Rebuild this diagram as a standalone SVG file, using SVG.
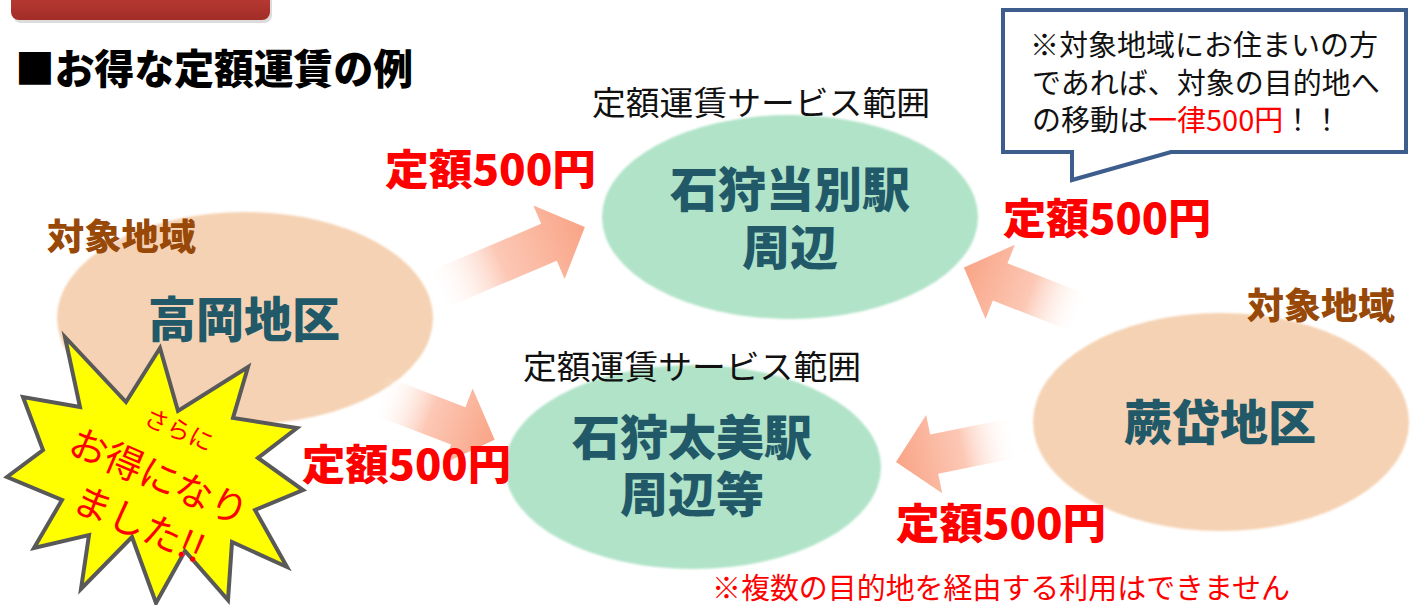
<svg xmlns="http://www.w3.org/2000/svg" width="1418" height="605" viewBox="0 0 1418 605">
<defs>
<style>
text{font-family:"Noto Sans CJK JP","Noto Sans CJK SC",sans-serif;}
.b{font-weight:900;}
.teal{fill:#215968;font-size:48px;font-weight:900;text-anchor:middle;}
.brown{fill:#984807;font-size:36px;font-weight:900;}
.price{fill:#ff0000;font-size:42px;font-weight:900;}
.range{fill:#111;font-size:33px;}
.orange{fill:#f5d2b3;}
.green{fill:#b0e3c8;}
.arrow{fill:url(#ag);}
.call{fill:#111;font-size:29px;}
.red{fill:#ff0000;}
.star{fill:#ffff00;stroke:#595959;stroke-width:4;stroke-linejoin:miter;}
</style>
<linearGradient id="ag" x1="0" y1="0" x2="1" y2="0">
<stop offset="0" stop-color="#ffffff" stop-opacity="0"/>
<stop offset="0.45" stop-color="#fcc8b5"/>
<stop offset="1" stop-color="#f9a486"/>
</linearGradient>
<linearGradient id="rg" x1="0" y1="0" x2="0" y2="1">
<stop offset="0" stop-color="#c8453d"/>
<stop offset="1" stop-color="#a22c27"/>
</linearGradient>
<filter id="soft" x="-5%" y="-5%" width="110%" height="110%">
<feGaussianBlur stdDeviation="1"/>
</filter>
</defs>

<g id="header">
<rect x="13" y="-18" width="259" height="41" rx="8" fill="#9a9a9a" opacity="0.35"/>
<rect x="11" y="-20" width="259" height="40" rx="8" fill="url(#rg)"/>
<text x="15" y="84" class="b" font-size="41" fill="#000" textLength="398" lengthAdjust="spacingAndGlyphs">■お得な定額運賃の例</text>
</g>

<g id="node-takaoka">
<ellipse cx="245" cy="318" rx="188" ry="106" class="orange" filter="url(#soft)"/>
<text x="47" y="250" class="brown" textLength="149" lengthAdjust="spacingAndGlyphs">対象地域</text>
<text x="244" y="337" class="teal" font-size="47">高岡地区</text>
</g>

<g id="node-warabitai">
<ellipse cx="1221" cy="422" rx="188" ry="109" class="orange" filter="url(#soft)"/>
<text x="1247" y="319" class="brown" textLength="148" lengthAdjust="spacingAndGlyphs">対象地域</text>
<text x="1220" y="440" class="teal" font-size="47">蕨岱地区</text>
</g>

<g id="node-tobetsu">
<ellipse cx="790" cy="217" rx="188" ry="102" class="green" filter="url(#soft)"/>
<text x="592" y="115" class="range" textLength="338" lengthAdjust="spacingAndGlyphs">定額運賃サービス範囲</text>
<text class="teal"><tspan x="790" y="207">石狩当別駅</tspan><tspan x="790" y="265">周辺</tspan></text>
</g>

<g id="node-futomi">
<ellipse cx="693" cy="467" rx="188" ry="102" class="green" filter="url(#soft)"/>
<text x="523" y="379" class="range" textLength="338" lengthAdjust="spacingAndGlyphs">定額運賃サービス範囲</text>
<text class="teal" font-size="47"><tspan x="692" y="455">石狩太美駅</tspan><tspan x="692" y="512">周辺等</tspan></text>
</g>

<g id="connectors">
<path class="arrow" transform="translate(433,291.5) rotate(-23)" d="M0,-20 H126 V-40 L165,0 L126,40 V20 H0 Z"/>
<path class="arrow" transform="translate(378,395) rotate(21)" d="M0,-20 H86 V-40 L125,0 L86,40 V20 H0 Z"/>
<path class="arrow" transform="translate(1083,314.5) rotate(201.5)" d="M0,-20 H89 V-40 L128,0 L89,40 V20 H0 Z"/>
<path class="arrow" transform="translate(1015.5,437.5) rotate(168.4)" d="M0,-20 H83 V-40 L122,0 L83,40 V20 H0 Z"/>
</g>

<g id="prices">
<text x="385" y="185" class="price" textLength="211" lengthAdjust="spacingAndGlyphs">定額500円</text>
<text x="1003" y="234" class="price" textLength="208" lengthAdjust="spacingAndGlyphs">定額500円</text>
<text x="302" y="480" class="price" textLength="209" lengthAdjust="spacingAndGlyphs">定額500円</text>
<text x="896" y="539" class="price" textLength="210" lengthAdjust="spacingAndGlyphs">定額500円</text>
</g>

<g id="starburst">
<polygon class="star" points="65,337 126,402 160,348 178,411 248,367 233,418 297,428 258,458 303,490 255,510 287,567 232,542 228,600 185,551 156,603 132,537 81,589 89,535 34,548 62,500 7,477 43,450 23,397 80,407"/>
<text transform="translate(165,478) rotate(23)" class="red" text-anchor="middle"><tspan x="-6" y="-41" font-size="24">さらに</tspan><tspan x="-6" y="15" font-size="38">お得になり</tspan><tspan x="-6" y="66" font-size="38">ました!!</tspan></text>
</g>

<g id="callout">
<path d="M1003,10 H1406 V152 H1171 L1072,180 V152 H1003 Z" fill="#ffffff" stroke="#3d5d8d" stroke-width="4" stroke-linejoin="miter"/>
<text class="call"><tspan x="1030" y="56">※対象地域にお住まいの方</tspan><tspan x="1032" y="94">であれば、対象の目的地へ</tspan><tspan x="1032" y="131">の移動は</tspan><tspan class="red">一律500円</tspan><tspan>！！</tspan></text>
</g>

<g id="note">
<text x="712" y="599" class="red" font-size="29" textLength="578" lengthAdjust="spacingAndGlyphs">※複数の目的地を経由する利用はできません</text>
</g>
</svg>
